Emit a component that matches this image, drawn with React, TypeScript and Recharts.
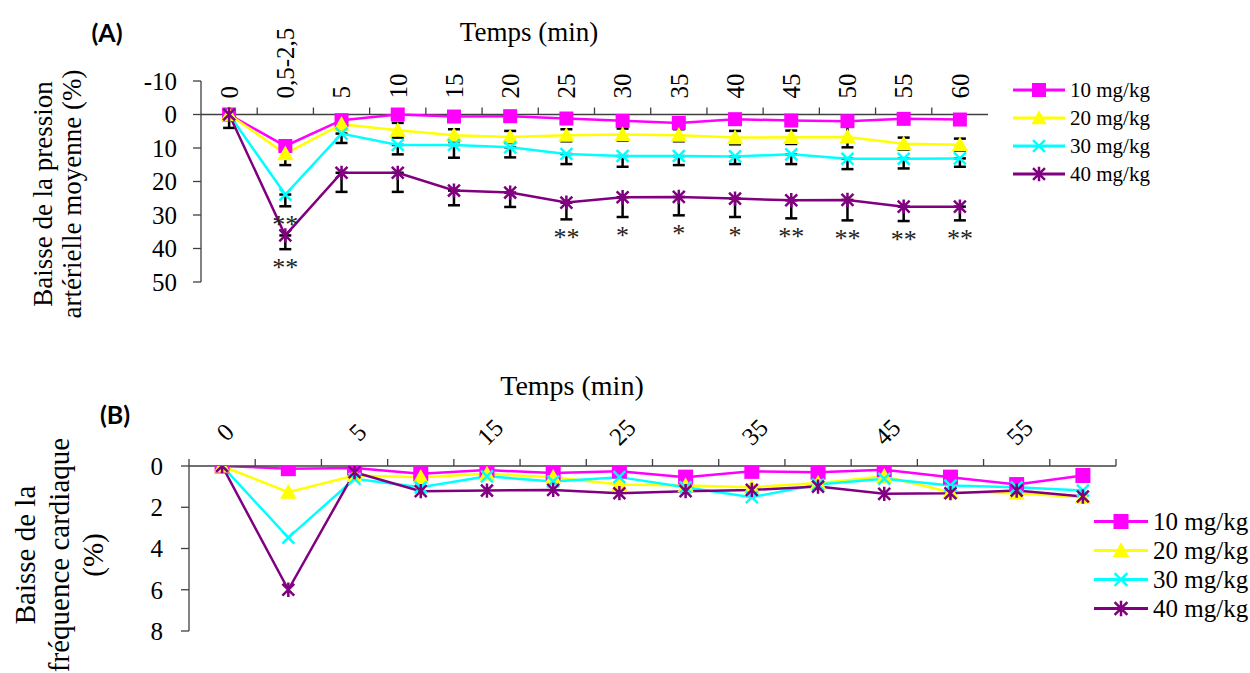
import React from 'react';
import { LineChart, Line, XAxis, YAxis, ErrorBar, ReferenceLine, Legend, LabelList } from 'recharts';

// ---------- data ----------
const categories = ['0', '0,5-2,5', '5', '10', '15', '20', '25', '30', '35', '40', '45', '50', '55', '60'];
const seriesNames = ['10 mg/kg', '20 mg/kg', '30 mg/kg', '40 mg/kg'];
const seriesColors = ['#FF00FF', '#FFFF00', '#00FFFF', '#800080'];
const seriesShapes = ['square', 'triangle', 'cross', 'star'];

// (A) Baisse de la pression artérielle moyenne (%)
const papA10 = [0, 9.4, 1.7, 0, 0.6, 0.5, 1.2, 1.9, 2.5, 1.4, 1.8, 2.0, 1.3, 1.5];
const papA20 = [0, 11.7, 2.9, 4.7, 6.2, 6.7, 6.2, 6.0, 6.2, 6.9, 6.8, 6.7, 8.7, 9.0];
const papA30 = [0, 23.9, 5.7, 9.1, 9.1, 9.8, 11.8, 12.4, 12.4, 12.5, 11.9, 13.2, 13.2, 13.1];
const papA40 = [0, 36.1, 17.4, 17.4, 22.7, 23.3, 26.3, 24.7, 24.6, 25.1, 25.6, 25.5, 27.5, 27.5];
const errA20 = [1, 3.4, 1.5, 2.2, 1.8, 1.8, 1.8, 1.8, 1.8, 2.0, 2.0, 3.1, 1.8, 1.8];
const errA30 = [1, 3.5, 2.8, 2.8, 3.8, 3, 3, 3.2, 2.7, 2.3, 2.9, 3.1, 2.9, 2.5];
const errA40 = [4, 4.1, 5.7, 5.7, 4.4, 4.3, 5, 5.9, 5.5, 5.5, 5.4, 6.1, 4.3, 4.1];
const starsA30 = ['', '**', '', '', '', '', '', '', '', '', '', '', '', ''];
const starsA40 = ['', '**', '', '', '', '', '**', '*', '*', '*', '**', '**', '**', '**'];
const yTicksA = [-10, 0, 10, 20, 30, 40, 50];

// (B) Baisse de la fréquence cardiaque (%)
const hrB10 = [0, 0.13, 0.1, 0.38, 0.2, 0.34, 0.25, 0.54, 0.26, 0.3, 0.18, 0.54, 0.9, 0.46];
const hrB20 = [0, 1.27, 0.46, 0.54, 0.38, 0.54, 0.9, 0.95, 1.03, 0.83, 0.5, 1.27, 1.32, 1.51];
const hrB30 = [0, 3.47, 0.62, 1.03, 0.5, 0.75, 0.54, 1.03, 1.51, 0.9, 0.62, 0.95, 1.03, 1.19];
const hrB40 = [0, 6.0, 0.3, 1.22, 1.19, 1.16, 1.32, 1.22, 1.16, 1.0, 1.35, 1.32, 1.19, 1.48];
const yTicksB = [0, 2, 4, 6, 8];

// ---------- tables ----------
const rowsA = categories.map((cat, i) => ({
  cat,
  d10: papA10[i],
  d20: papA20[i],
  d30: papA30[i],
  d40: papA40[i],
  e20: [errA20[i], errA20[i]],
  e30: [0, errA30[i]],
  e40: [0, errA40[i]],
  low30: papA30[i] + errA30[i],
  low40: papA40[i] + errA40[i],
  s30: starsA30[i],
  s40: starsA40[i],
}));

const rowsB = categories.map((cat, i) => ({
  cat,
  d10: hrB10[i],
  d20: hrB20[i],
  d30: hrB30[i],
  d40: hrB40[i],
}));

// ---------- layout ----------
const SERIF = "'Liberation Serif', Tinos, 'Times New Roman', 'DejaVu Serif', serif";
const AXIS = '#404040';

const A_W = 1250, A_H = 340;
const A_MARGIN = { top: 51, right: 262, bottom: 58, left: 0 };
const A_XH = 30, A_YW = 201;
const A_PLOT_TOP = A_MARGIN.top + A_XH;
const A_PLOT_H = A_H - A_PLOT_TOP - A_MARGIN.bottom;
const A_PLOT_W = A_W - A_YW - A_MARGIN.right;
const A_DOMAIN = [-10, 50];
const A_ZERO_Y = A_PLOT_TOP + (A_PLOT_H * (0 - A_DOMAIN[0])) / (A_DOMAIN[1] - A_DOMAIN[0]);

const B_TOP = 340;
const B_W = 1250, B_H = 333;
const B_MARGIN = { top: 96, right: 134, bottom: 42, left: 0 };
const B_XH = 30, B_YW = 189;
const B_PLOT_W = B_W - B_YW - B_MARGIN.right;

// ---------- markers ----------
function MarkerShape({ cx, cy, shape, color, size }: any) {
  const h = size / 2;
  if (shape === 'square') {
    return <rect x={cx - h} y={cy - h} width={size} height={size} fill={color} />;
  }
  if (shape === 'triangle') {
    const t = h * 1.1;
    return (
      <polygon
        points={`${cx},${cy - t} ${cx + t},${cy + t * 0.8} ${cx - t},${cy + t * 0.8}`}
        fill={color}
      />
    );
  }
  const r = h * 0.85;
  if (shape === 'cross') {
    return (
      <path
        d={`M${cx - r},${cy - r}L${cx + r},${cy + r}M${cx - r},${cy + r}L${cx + r},${cy - r}`}
        stroke={color}
        strokeWidth={2.5}
        fill="none"
      />
    );
  }
  return (
    <path
      d={`M${cx - r},${cy - r}L${cx + r},${cy + r}M${cx - r},${cy + r}L${cx + r},${cy - r}M${cx},${cy - r * 1.2}L${cx},${cy + r * 1.2}`}
      stroke={color}
      strokeWidth={2.5}
      fill="none"
    />
  );
}

const makeDot = (k: number, size: number, prefix: string) => (p: any) => (
  <MarkerShape
    key={`${prefix}-${k}-${p.index}`}
    cx={p.cx}
    cy={p.cy}
    shape={seriesShapes[k]}
    color={seriesColors[k]}
    size={size}
  />
);

const makeLegend = (lineLen: number, rowH: number, fontSize: number, markerSize: number) => (props: any) => {
  const payload = (props.payload || []).filter((e: any) => seriesNames.includes(e.value));
  return (
    <div>
      {payload.map((entry: any) => {
        const k = seriesNames.indexOf(entry.value);
        return (
          <div key={entry.value} style={{ display: 'flex', alignItems: 'center', height: rowH }}>
            <svg width={lineLen} height={rowH} style={{ overflow: 'visible' }}>
              <line x1={0} x2={lineLen} y1={rowH / 2} y2={rowH / 2} stroke={seriesColors[k]} strokeWidth={3} />
              <MarkerShape cx={lineLen / 2} cy={rowH / 2} shape={seriesShapes[k]} color={seriesColors[k]} size={markerSize} />
            </svg>
            <span style={{ fontFamily: SERIF, fontSize, marginLeft: 5, whiteSpace: 'nowrap', lineHeight: 1, color: '#000' }}>
              {entry.value}
            </span>
          </div>
        );
      })}
    </div>
  );
};

// ---------- ticks ----------
function TickA(props: any) {
  const { x, payload } = props;
  const idx = categories.indexOf(payload.value);
  const bw = A_PLOT_W / categories.length;
  return (
    <g>
      {idx < categories.length - 1 && (
        <line x1={x + bw / 2} x2={x + bw / 2} y1={A_ZERO_Y} y2={A_ZERO_Y - 7} stroke={AXIS} strokeWidth={1.3} />
      )}
      <text
        transform={`translate(${x},${A_ZERO_Y - 16}) rotate(-90)`}
        dy="0.35em"
        textAnchor="start"
        fontFamily={SERIF}
        fontSize={25}
        fill="#000"
      >
        {payload.value}
      </text>
    </g>
  );
}

function TickB(props: any) {
  const { x, y, payload } = props;
  const idx = categories.indexOf(payload.value);
  const bw = B_PLOT_W / categories.length;
  return (
    <g>
      <line x1={x - bw / 2} x2={x - bw / 2} y1={y} y2={y - 7} stroke={AXIS} strokeWidth={1.3} />
      {idx === categories.length - 1 && (
        <line x1={x + bw / 2} x2={x + bw / 2} y1={y} y2={y - 7} stroke={AXIS} strokeWidth={1.3} />
      )}
      {idx % 2 === 0 && (
        <text
          transform={`translate(${x + 3},${y - 34}) rotate(-45)`}
          textAnchor="middle"
          dominantBaseline="central"
          fontFamily={SERIF}
          fontSize={25}
          fill="#000"
        >
          {payload.value}
        </text>
      )}
    </g>
  );
}

const renderStars = (p: any) =>
  p.value ? (
    <text key={`st-${p.index}-${p.x}`} x={p.x} y={p.y + 27} textAnchor="middle" fontFamily={SERIF} fontSize={26} fill="#222">
      {p.value}
    </text>
  ) : null;

const absText = (left: number, top: number, extra: any): any => ({
  position: 'absolute',
  left,
  top,
  transform: 'translate(-50%, -50%)',
  whiteSpace: 'nowrap',
  color: '#000',
  ...extra,
});

const hidden = { stroke: 'none', dot: false, activeDot: false, legendType: 'none' as const, isAnimationActive: false };

export default function App() {
  return (
    <div style={{ position: 'absolute', left: 0, top: 0, width: 1250, height: 673, background: '#fff', overflow: 'hidden' }}>
      {/* Panel A */}
      <div style={{ position: 'absolute', left: 0, top: 0 }}>
        <LineChart width={A_W} height={A_H} data={rowsA} margin={A_MARGIN}>
          <XAxis
            dataKey="cat"
            orientation="top"
            scale="band"
            height={A_XH}
            interval={0}
            axisLine={false}
            tickLine={false}
            tickSize={0}
            tickMargin={0}
            tick={(p: any) => <TickA {...p} />}
          />
          <YAxis
            type="number"
            reversed
            domain={A_DOMAIN}
            ticks={yTicksA}
            interval={0}
            width={A_YW}
            tickSize={8}
            tickMargin={16}
            axisLine={{ stroke: AXIS, strokeWidth: 1.3 }}
            tickLine={{ stroke: AXIS, strokeWidth: 1.3 }}
            tick={{ fill: '#000', fontSize: 25, fontFamily: SERIF }}
            allowDataOverflow
          />
          <ReferenceLine y={0} stroke={AXIS} strokeWidth={1.3} />
          {/* error bars first, so that the markers are drawn over them */}
          <Line dataKey="d20" {...hidden}>
            <ErrorBar dataKey="e20" width={6} stroke="#000" strokeWidth={2.5} direction="y" />
          </Line>
          <Line dataKey="d30" {...hidden}>
            <ErrorBar dataKey="e30" width={6} stroke="#000" strokeWidth={2.5} direction="y" />
          </Line>
          <Line dataKey="d40" {...hidden}>
            <ErrorBar dataKey="e40" width={6} stroke="#000" strokeWidth={2.5} direction="y" />
          </Line>
          <Line dataKey="d10" name={seriesNames[0]} stroke={seriesColors[0]} strokeWidth={2.5} dot={makeDot(0, 14, 'a')} activeDot={false} isAnimationActive={false} />
          <Line dataKey="d20" name={seriesNames[1]} stroke={seriesColors[1]} strokeWidth={2.5} dot={makeDot(1, 15, 'a')} activeDot={false} isAnimationActive={false} />
          <Line dataKey="d30" name={seriesNames[2]} stroke={seriesColors[2]} strokeWidth={2.5} dot={makeDot(2, 14, 'a')} activeDot={false} isAnimationActive={false} />
          <Line dataKey="d40" name={seriesNames[3]} stroke={seriesColors[3]} strokeWidth={2.5} dot={makeDot(3, 14, 'a')} activeDot={false} isAnimationActive={false} />
          <Line dataKey="low30" {...hidden}>
            <LabelList dataKey="s30" content={renderStars} />
          </Line>
          <Line dataKey="low40" {...hidden}>
            <LabelList dataKey="s40" content={renderStars} />
          </Line>
          <Legend
            layout="vertical"
            align="center"
            verticalAlign="middle"
            wrapperStyle={{ left: 1013, top: 76, width: 230 }}
            content={makeLegend(52, 28, 21, 14)}
          />
        </LineChart>
      </div>

      {/* Panel B */}
      <div style={{ position: 'absolute', left: 0, top: B_TOP }}>
        <LineChart width={B_W} height={B_H} data={rowsB} margin={B_MARGIN}>
          <XAxis
            dataKey="cat"
            orientation="top"
            scale="band"
            height={B_XH}
            interval={0}
            axisLine={{ stroke: AXIS, strokeWidth: 1.3 }}
            tickLine={false}
            tickSize={0}
            tickMargin={0}
            tick={(p: any) => <TickB {...p} />}
          />
          <YAxis
            type="number"
            reversed
            domain={[0, 8]}
            ticks={yTicksB}
            interval={0}
            width={B_YW}
            tickSize={8}
            tickMargin={18}
            axisLine={{ stroke: AXIS, strokeWidth: 1.3 }}
            tickLine={{ stroke: AXIS, strokeWidth: 1.3 }}
            tick={{ fill: '#000', fontSize: 25, fontFamily: SERIF }}
            allowDataOverflow
          />
          <Line dataKey="d10" name={seriesNames[0]} stroke={seriesColors[0]} strokeWidth={2.5} dot={makeDot(0, 15, 'b')} activeDot={false} isAnimationActive={false} />
          <Line dataKey="d20" name={seriesNames[1]} stroke={seriesColors[1]} strokeWidth={2.5} dot={makeDot(1, 15, 'b')} activeDot={false} isAnimationActive={false} />
          <Line dataKey="d30" name={seriesNames[2]} stroke={seriesColors[2]} strokeWidth={2.5} dot={makeDot(2, 14, 'b')} activeDot={false} isAnimationActive={false} />
          <Line dataKey="d40" name={seriesNames[3]} stroke={seriesColors[3]} strokeWidth={2.5} dot={makeDot(3, 14, 'b')} activeDot={false} isAnimationActive={false} />
          <Legend
            layout="vertical"
            align="center"
            verticalAlign="middle"
            wrapperStyle={{ left: 1094, top: 167, width: 160 }}
            content={makeLegend(54, 29, 25, 15)}
          />
        </LineChart>
      </div>

      {/* Titles and labels */}
      <div style={absText(107, 32, { fontFamily: 'Lato, "Open Sans", sans-serif', fontWeight: 700, fontSize: 25 })}>(A)</div>
      <div style={absText(529, 32, { fontFamily: SERIF, fontSize: 27 })}>Temps (min)</div>
      <div
        style={{
          position: 'absolute',
          left: 57.5,
          top: 194,
          transform: 'translate(-50%, -50%) rotate(-90deg)',
          whiteSpace: 'nowrap',
          fontFamily: SERIF,
          fontSize: 27,
          lineHeight: '29px',
          textAlign: 'center',
          color: '#000',
        }}
      >
        Baisse de la pression
        <br />
        artérielle moyenne (%)
      </div>

      <div style={absText(115, 414, { fontFamily: 'Lato, "Open Sans", sans-serif', fontWeight: 700, fontSize: 25 })}>(B)</div>
      <div style={absText(572, 386, { fontFamily: SERIF, fontSize: 28 })}>Temps (min)</div>
      <div
        style={{
          position: 'absolute',
          left: 59,
          top: 555,
          transform: 'translate(-50%, -50%) rotate(-90deg)',
          whiteSpace: 'nowrap',
          fontFamily: SERIF,
          fontSize: 29,
          lineHeight: '34px',
          textAlign: 'center',
          color: '#000',
        }}
      >
        Baisse de la
        <br />
        fréquence cardiaque
        <br />
        (%)
      </div>
    </div>
  );
}
